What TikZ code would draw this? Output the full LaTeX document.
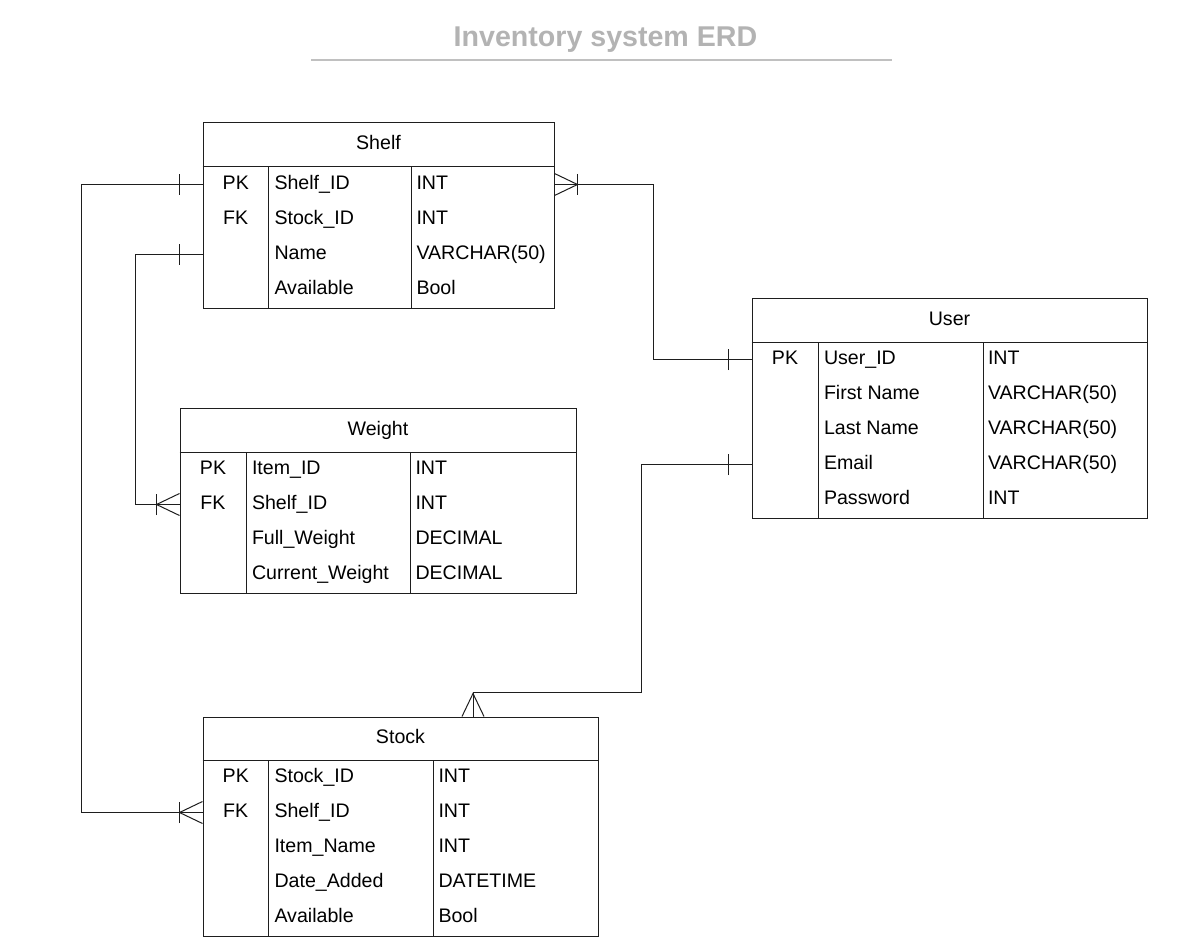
\documentclass[tikz,border=0pt]{standalone}
\usepackage{fontspec}
\setmainfont{Liberation Sans}
\definecolor{titlegray}{RGB}{179,179,179}
\definecolor{rulegray}{RGB}{192,192,192}
\definecolor{linedark}{RGB}{30,30,30}
\tikzset{
  erone/.pic={\draw (23,-10.5) -- (23,10.5);},
  ermany/.pic={\draw (0,-11) -- (23,0) -- (0,11);},
}
\newcommand{\erdtable}[9]{% name, x0, x1, top, hdr, bottom, c1, c2, title
  \node[tbl, minimum width={(#3-#2)*1pt}, minimum height={(#6-#4)*1pt}] (#1) at ({(#2+#3)/2},{(#4+#6)/2}) {};
  \draw (#1.west |- 0,#5) -- (#1.east |- 0,#5);
  \draw (#7,#5) -- (#7,#6);
  \draw (#8,#5) -- (#8,#6);
  \node[txt, anchor=base] (#1-title) at ({(#2+#3)/2},{(#4+#5)/2+5}) {#9};
}
\newcommand{\erdrows}[7]{% name, x0, x1, hdr, c1, c2, list
  \foreach \k/\n/\t [count=\i] in {#7} {
    \pgfmathsetmacro{\yc}{#4+35*(\i-0.5)}
    \node[rowbox, minimum width={(#3-#2)*1pt}] (#1-r\i) at ({(#2+#3)/2},\yc) {};
    \node[txt, anchor=base] (#1-k\i) at ({(#2+#5)/2},\yc+5) {\k};
    \node[txt, anchor=base west] (#1-n\i) at (#5+5.5,\yc+5) {\n};
    \node[txt, anchor=base west] (#1-t\i) at (#6+4.5,\yc+5) {\t};
  }}
\begin{document}
\begin{tikzpicture}[x=1pt,y=-1pt,line width=1pt,draw=linedark,
  txt/.style={inner sep=0pt, font=\fontsize{19.6}{23}\selectfont},
  rowbox/.style={inner sep=0pt, minimum height=35pt},
  tbl/.style={draw=linedark, inner sep=0pt},
  conn/.style={draw=linedark, line width=1pt}]
\fill[white] (0,0) rectangle (1190,949);
\useasboundingbox (0,0) rectangle (1190,949);

% title
\node[inner sep=0pt, anchor=base, text=titlegray, font=\fontsize{28.6}{32}\selectfont\bfseries] (title) at (605.5,47) {Inventory system ERD};
\draw[rulegray, line width=2.6pt] (311,60) -- (892,60);

% Shelf
\erdtable{shelf}{203}{554}{123}{167}{308}{268.5}{411.5}{Shelf}
\erdrows{shelf}{203}{554}{167}{268.5}{411.5}{PK/Shelf\_ID/INT, FK/Stock\_ID/INT, /Name/VARCHAR(50), /Available/Bool}

% Weight
\erdtable{weight}{180}{576}{408}{452}{593}{246}{410.5}{Weight}
\erdrows{weight}{180}{576}{452}{246}{410.5}{PK/Item\_ID/INT, FK/Shelf\_ID/INT, /Full\_Weight/DECIMAL, /Current\_Weight/DECIMAL}

% User
\erdtable{user}{752}{1147}{299}{342}{518}{818}{983}{User}
\erdrows{user}{752}{1147}{342}{818}{983}{PK/User\_ID/INT, /First Name/VARCHAR(50), /Last Name/VARCHAR(50), /Email/VARCHAR(50), /Password/INT}

% Stock
\erdtable{stock}{203}{598}{717}{760}{936}{268.5}{433.5}{Stock}
\erdrows{stock}{203}{598}{760}{268.5}{433.5}{PK/Stock\_ID/INT, FK/Shelf\_ID/INT, /Item\_Name/INT, /Date\_Added/DATETIME, /Available/Bool}

% connectors
\draw[conn] (shelf-r1.west) -- ++(-121,0) |- (stock-r2.west);
\pic[rotate=180] at (shelf-r1.west) {erone};
\pic[rotate=180] at (stock-r2.west) {erone};
\pic[rotate=180] at (stock-r2.west) {ermany};

\draw[conn] (shelf-r3.west) -- ++(-67,0) |- (weight-r2.west);
\pic[rotate=180] at (shelf-r3.west) {erone};
\pic[rotate=180] at (weight-r2.west) {erone};
\pic[rotate=180] at (weight-r2.west) {ermany};

\draw[conn] (shelf-r1.east) -- ++(99,0) |- (user-r1.west);
\pic at (shelf-r1.east) {erone};
\pic at (shelf-r1.east) {ermany};
\pic[rotate=180] at (user-r1.west) {erone};

\draw[conn] (user-r4.west) -- ++(-110,0) -- ++(0,227.5) -| ([xshift=72.5pt]stock.north);
\pic[rotate=180] at (user-r4.west) {erone};
\pic[rotate=90] at ([xshift=72.5pt]stock.north) {ermany};
\end{tikzpicture}
\end{document}
